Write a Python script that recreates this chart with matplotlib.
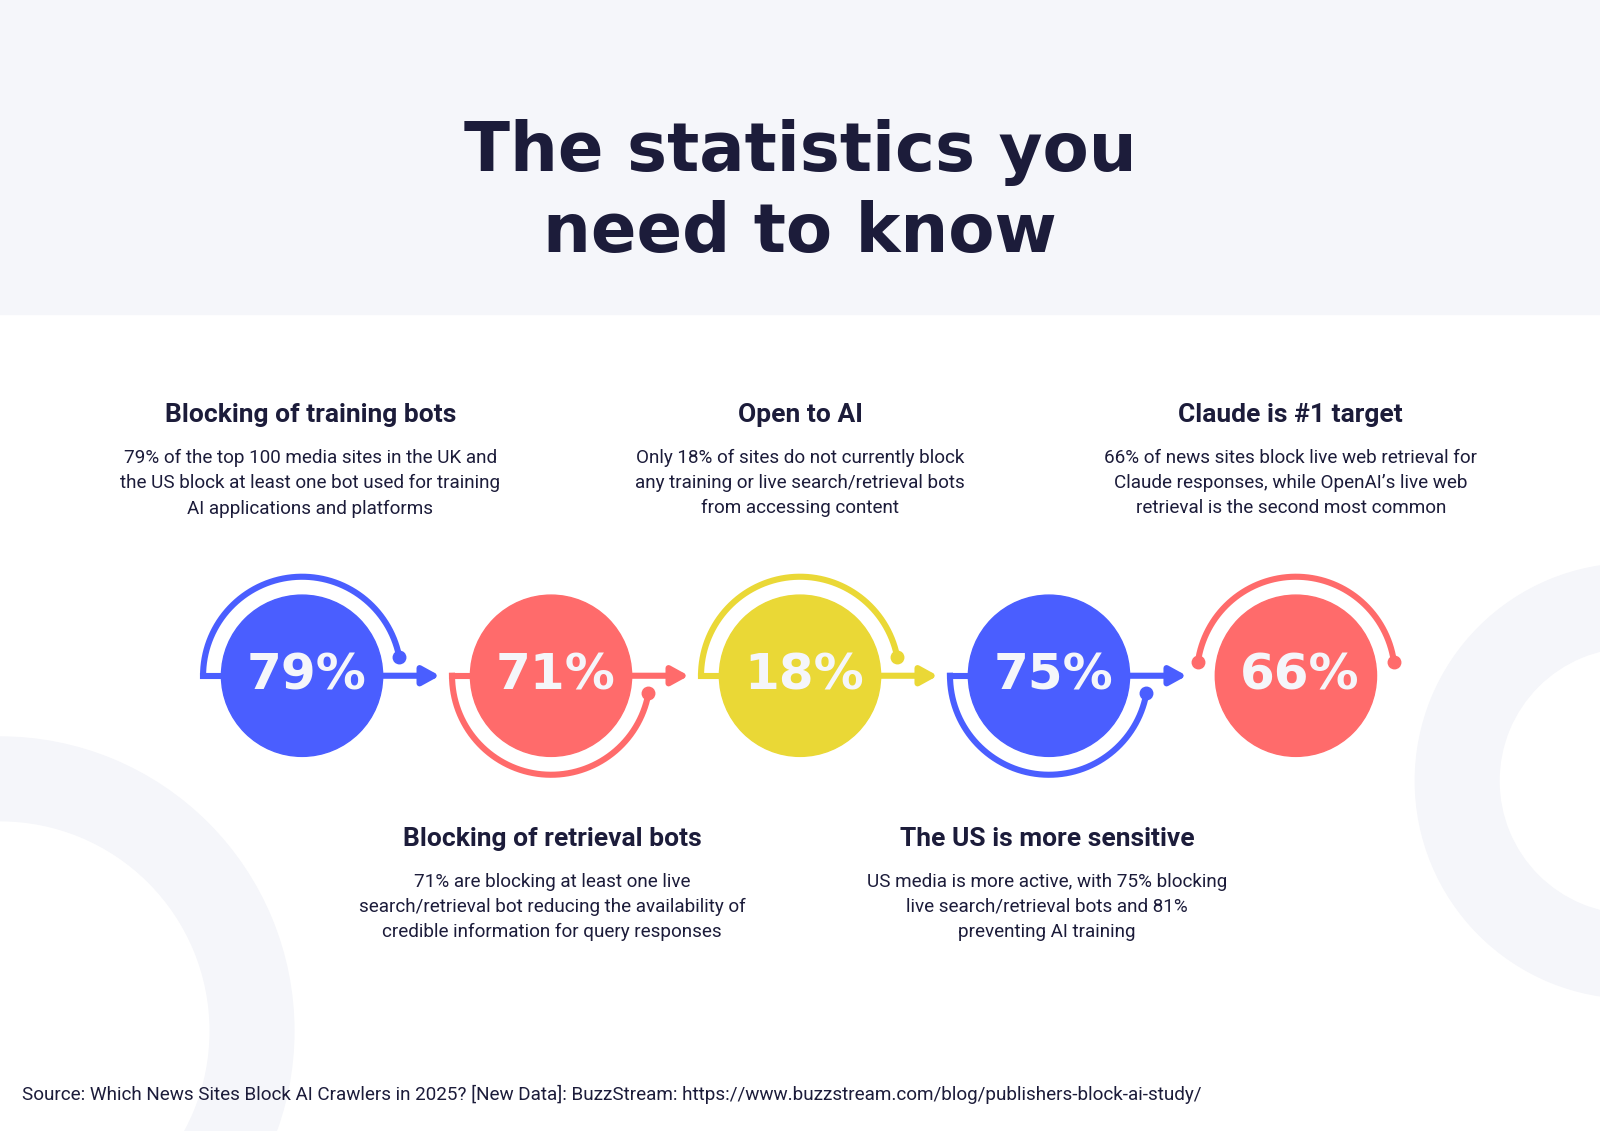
import numpy as np
import matplotlib
matplotlib.use("Agg")
import matplotlib.pyplot as plt
from matplotlib.patches import Circle, Wedge, Rectangle

values = [79, 71, 18, 75, 66]
colors = ["#4A5EFF", "#FF6B6B", "#EAD836", "#4A5EFF", "#FF6B6B"]
arc_side = ["top", "bottom", "top", "bottom", "both"]
headings = ["Blocking of training bots", "Blocking of retrieval bots", "Open to AI",
            "The US is more sensitive", "Claude is #1 target"]
bodies = [
    "79% of the top 100 media sites in the UK and\nthe US block at least one bot used for training\nAI applications and platforms",
    "71% are blocking at least one live\nsearch/retrieval bot reducing the availability of\ncredible information for query responses",
    "Only 18% of sites do not currently block\nany training or live search/retrieval bots\nfrom accessing content",
    "US media is more active, with 75% blocking\nlive search/retrieval bots and 81%\npreventing AI training",
    "66% of news sites block live web retrieval for\nClaude responses, while OpenAI\u2019s live web\nretrieval is the second most common",
]
title = "The statistics you\nneed to know"
source = "Source: Which News Sites Block AI Crawlers in 2025? [New Data]: BuzzStream: https://www.buzzstream.com/blog/publishers-block-ai-study/"

W, H = 1568, 1108
NAVY = "#1C1C3A"
BG = "#F5F6FA"
fig = plt.figure(figsize=(16, 11.31), dpi=100)
ax = fig.add_axes([0, 0, 1, 1])
ax.set_xlim(0, W); ax.set_ylim(H, 0); ax.axis("off")
ax.set_aspect("auto")

ax.add_patch(Rectangle((0, 0), W, 308, color=BG, zorder=0))
ax.add_patch(Wedge((0, 1010), 288, 0, 360, width=82, color=BG, zorder=0))
ax.add_patch(Wedge((1600, 765), 213, 0, 360, width=82, color=BG, zorder=0))

ax.text(W/2, 189, title, ha="center", va="center", fontsize=48.5, fontweight="heavy",
        color=NAVY, family="DejaVu Sans", linespacing=1.27)

xs = [296, 540, 784, 1028, 1270]
cy = 662
r = 79
R = 97
lw = 4.4

def arcpts(cx, a0, a1):
    t = np.radians(np.linspace(a0, a1, 200))
    return cx + R*np.cos(t), cy - R*np.sin(t)

for i, (v, c, side) in enumerate(zip(values, colors, arc_side)):
    cx = xs[i]
    ax.add_patch(Circle((cx, cy), r, color=c, zorder=3))
    ax.text(cx + 4, cy, f"{v}%", ha="center", va="center", fontsize=36, fontweight="heavy",
            color=BG, family="DejaVu Sans", zorder=4)
    if side == "top":
        x, y = arcpts(cx, 180, 11)
        ax.plot(x, y, color=c, lw=lw, solid_capstyle="butt", zorder=2)
        ax.plot([cx - R, cx - r], [cy, cy], color=c, lw=lw, zorder=2)
        ax.plot(x[-1], y[-1], "o", color=c, ms=9, zorder=2)
    elif side == "bottom":
        x2, y2 = arcpts(cx, -180, -10)
        ax.plot(x2, y2, color=c, lw=lw, zorder=2)
        ax.plot([cx - R, cx - r], [cy, cy], color=c, lw=lw, zorder=2)
        ax.plot(x2[-1], y2[-1], "o", color=c, ms=9, zorder=2)
    else:
        x, y = arcpts(cx, 172, 8)
        ax.plot(x, y, color=c, lw=lw, zorder=2)
        ax.plot([x[0], x[-1]], [y[0], y[-1]], "o", color=c, ms=9, zorder=2)
    if i < len(values) - 1:
        ax.annotate("", xy=(cx + r + 56, cy), xytext=(cx + r, cy),
                    arrowprops=dict(arrowstyle="-|>,head_length=1.0,head_width=0.55",
                                    color=c, lw=lw, shrinkA=0, shrinkB=0), zorder=2)

tx = [304, 541, 784, 1026, 1265]
for i in range(5):
    top = i % 2 == 0
    hy = 407 if top else 822
    ax.text(tx[i], hy, headings[i], ha="center", va="center", fontsize=19,
            fontweight="bold", color=NAVY, family="Roboto")
    ax.text(tx[i], hy + 33, bodies[i], ha="center", va="top", fontsize=13.6,
            color=NAVY, family="Roboto", linespacing=1.5)

ax.text(22, 1072, source, ha="left", va="center", fontsize=13.6, color=NAVY, family="Roboto")

fig.savefig("out.png", dpi=100, facecolor="white")
